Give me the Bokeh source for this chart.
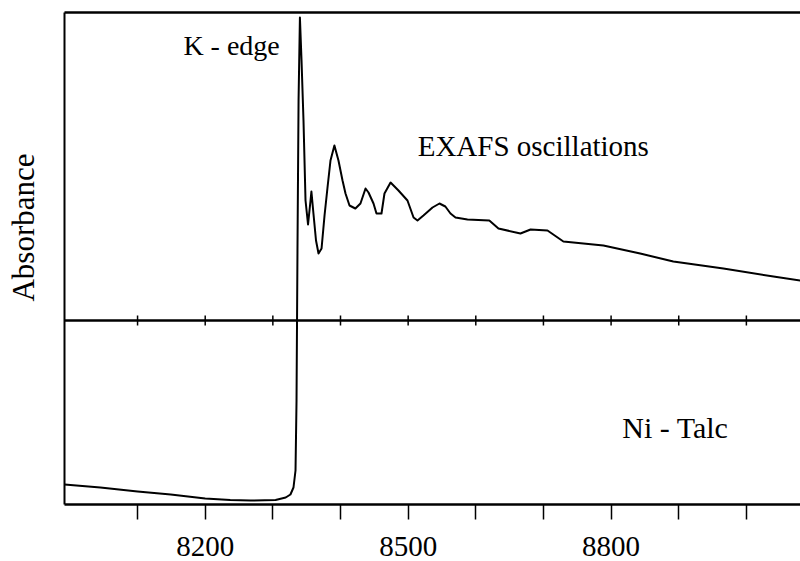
import numpy as np
from bokeh.plotting import figure
from bokeh.layouts import row
from bokeh.models import LinearAxis, FixedTicker, Span, Label, Range1d
from bokeh.embed import file_html
from bokeh.resources import INLINE

# Ni K-edge XAS spectrum of Ni-Talc (arbitrary absorbance units)
energy = [7992, 8045, 8100, 8149, 8200, 8237, 8267, 8304, 8319, 8326, 8330.5, 8333.5,
          8335, 8336.4, 8338, 8340, 8342.4, 8345.3, 8348.3, 8352, 8355.7, 8357, 8360,
          8363.8, 8367.5, 8372, 8376.4, 8380.8, 8385.2, 8391, 8397, 8403, 8407.4,
          8413.3, 8422, 8429.5, 8437, 8441.4, 8448.8, 8453.2, 8460.6, 8465, 8474,
          8485.7, 8499, 8508, 8513.8, 8522.6, 8536, 8546.3, 8555, 8562.6, 8570,
          8587.7, 8620, 8633.5, 8666, 8681, 8706, 8729.5, 8788.6, 8843, 8892, 8966,
          9040, 9080]
absorbance = [0.20, 0.17, 0.13, 0.10, 0.06, 0.045, 0.04, 0.045, 0.07, 0.10, 0.17, 0.34,
              1.04, 2.54, 4.04, 4.87, 4.44, 3.84, 3.04, 2.80, 3.04, 3.13, 2.91,
              2.64, 2.51, 2.56, 2.89, 3.17, 3.44, 3.59, 3.44, 3.24, 3.11,
              2.99, 2.96, 3.01, 3.16, 3.12, 3.01, 2.91, 2.91, 3.11, 3.22,
              3.14, 3.04, 2.87, 2.84, 2.89, 2.97, 3.01, 2.98, 2.91, 2.87,
              2.85, 2.84, 2.76, 2.71, 2.75, 2.74, 2.63, 2.59, 2.51, 2.43, 2.36,
              2.28, 2.24]

tick_values = [8100, 8200, 8300, 8400, 8500, 8600, 8700, 8800, 8900, 9000]
tick_labels = ["8200", "8500", "8800"]
baseline_level = 1.84   # the inner horizontal axis line

x_start, x_end = 7992, 9080
y_start, y_end = 0.0, 4.92

SERIF = "Liberation Serif"
shared_y = Range1d(y_start, y_end)

# narrow panel that carries the y-axis title
lab = figure(width=62, height=561, output_backend="svg", toolbar_location=None,
             x_range=Range1d(0, 62), y_range=shared_y,
             x_axis_location=None, y_axis_location=None,
             min_border_left=0, min_border_right=0, min_border_top=12,
             min_border_bottom=57)
lab.outline_line_color = None
lab.grid.grid_line_color = None
lab.add_layout(Label(x=23, y=2.77, text="Absorbance", text_font=SERIF,
                     text_font_size="31px", text_align="center", angle=np.pi / 2,
                     text_baseline="middle", text_color="black"))

p = figure(width=738, height=561, output_backend="svg", toolbar_location=None,
           x_range=Range1d(x_start, x_end), y_range=shared_y,
           x_axis_location=None, y_axis_location=None,
           min_border_left=2, min_border_right=0, min_border_top=12,
           min_border_bottom=57)
p.outline_line_color = None
p.background_fill_color = "white"
p.border_fill_color = "white"

bottom = LinearAxis(ticker=FixedTicker(ticks=tick_values),
                    major_label_overrides={v: (str(v) if str(v) in tick_labels else "")
                                           for v in tick_values},
                    minor_tick_line_color=None, major_tick_in=0, major_tick_out=15,
                    major_tick_line_width=1.5, major_tick_line_color="black",
                    axis_line_width=2.5, axis_line_color="black",
                    major_label_text_font=SERIF, major_label_text_font_size="29px",
                    major_label_text_line_height=0.8,
                    major_label_text_color="black", major_label_standoff=17)
p.add_layout(bottom, "below")

left = LinearAxis(ticker=FixedTicker(ticks=[]), axis_line_width=2,
                  axis_line_color="black", major_label_text_font_size="0px",
                  minor_tick_line_color=None, major_tick_line_color=None)
p.add_layout(left, "left")
top = LinearAxis(ticker=FixedTicker(ticks=[]), axis_line_width=2.5,
                 axis_line_color="black", major_label_text_font_size="0px",
                 minor_tick_line_color=None, major_tick_line_color=None)
p.add_layout(top, "above")

p.grid.grid_line_color = None

p.add_layout(Span(location=baseline_level, dimension="width", line_color="black",
                  line_width=2.5))
p.scatter(x=tick_values, y=[baseline_level] * len(tick_values), marker="dash",
          angle=np.pi / 2, size=10, line_color="black", line_width=1.5)

p.line(energy, absorbance, line_color="black", line_width=2, line_join="round")

p.add_layout(Label(x=8239, y=4.59, text="K - edge", text_font=SERIF,
                   text_font_size="28px", text_align="center",
                   text_baseline="alphabetic", text_color="black"))
p.add_layout(Label(x=8685, y=3.59, text="EXAFS oscillations", text_font=SERIF,
                   text_font_size="29px", text_align="center",
                   text_baseline="alphabetic", text_color="black"))
p.add_layout(Label(x=8895, y=0.77, text="Ni - Talc", text_font=SERIF,
                   text_font_size="30px", text_align="center",
                   text_baseline="alphabetic", text_color="black"))

layout = row(lab, p, spacing=0)
open("out.html", "w").write(file_html(layout, INLINE))
